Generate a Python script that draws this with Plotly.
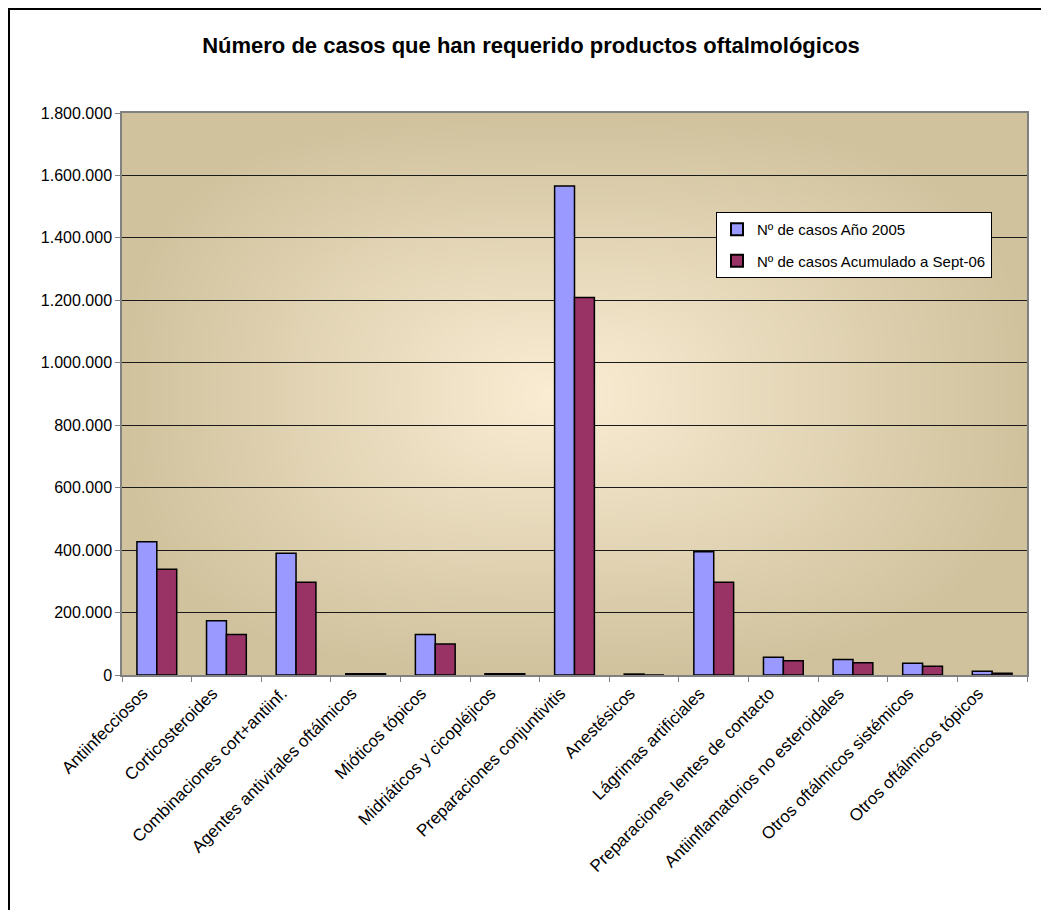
import base64
import struct
import zlib

import plotly.graph_objects as go

categories = [
    "Antiinfecciosos",
    "Corticosteroides",
    "Combinaciones cort+antiinf.",
    "Agentes antivirales oftálmicos",
    "Mióticos tópicos",
    "Midriáticos y cicopléjicos",
    "Preparaciones conjuntivitis",
    "Anestésicos",
    "Lágrimas artificiales",
    "Preparaciones lentes de contacto",
    "Antiinflamatorios no esteroidales",
    "Otros oftálmicos sistémicos",
    "Otros oftálmicos tópicos",
]
casos_2005 = [427000, 174000, 390000, 4000, 130000, 4000, 1566000, 3000, 395000, 57000, 50000, 38000, 12000]
casos_sept06 = [339000, 130000, 297000, 4000, 99000, 4000, 1209000, 0, 297000, 46000, 39000, 28000, 6000]
series_names = ["Nº de casos Año 2005", "Nº de casos Acumulado a Sept-06"]
y_ticks = [0, 200000, 400000, 600000, 800000, 1000000, 1200000, 1400000, 1600000, 1800000]
title_text = "Número de casos que han requerido productos oftalmológicos"


def gradient_png(w, h, center, edge, cx=0.48, cy=0.5, p=3.0):
    rows = []
    for j in range(h):
        v = j / (h - 1)
        row = bytearray([0])
        for i in range(w):
            u = i / (w - 1)
            dx = abs(u - cx) / (cx if u < cx else 1 - cx)
            dy = abs(v - cy) / (cy if v < cy else 1 - cy)
            t = (dx ** p + dy ** p) ** (1 / p)
            t = min(1.0, t)
            for k in range(3):
                row.append(int(round(center[k] + (edge[k] - center[k]) * t)))
        rows.append(bytes(row))
    raw = b"".join(rows)

    def chunk(tag, data):
        c = struct.pack(">I", len(data)) + tag + data
        return c + struct.pack(">I", zlib.crc32(tag + data) & 0xFFFFFFFF)

    png = b"\x89PNG\r\n\x1a\n"
    png += chunk(b"IHDR", struct.pack(">IIBBBBB", w, h, 8, 2, 0, 0, 0))
    png += chunk(b"IDAT", zlib.compress(raw, 9))
    png += chunk(b"IEND", b"")
    return "data:image/png;base64," + base64.b64encode(png).decode()


bg_src = gradient_png(240, 150, (250, 237, 212), (208, 194, 157))

# page body has an 8px margin: figure coords = screen coords - 8
OFF = 8
W, H = 1049 - 2 * OFF, 918 - 2 * OFF
L, R, T, B = 122 - OFF, 1027 - OFF, 113 - OFF, 675 - OFF
pw, ph = R - L, B - T


def px_x(px):
    return (px - OFF - L) / pw


def px_y(py):
    return (B - (py - OFF)) / ph


fig = go.Figure()
fig.add_trace(go.Bar(
    x=categories, y=casos_2005, name=series_names[0],
    marker=dict(color="#9999FF", line=dict(color="#000000", width=1.5)),
    legendgroup="a",
))
fig.add_trace(go.Bar(
    x=categories, y=casos_sept06, name=series_names[1],
    marker=dict(color="#993366", line=dict(color="#000000", width=1.5)),
    legendgroup="b",
))

font_family = "Liberation Sans, Arial, sans-serif"

fig.update_layout(
    width=W, height=H,
    margin=dict(l=L, r=W - R, t=T, b=H - B, pad=0),
    paper_bgcolor="white",
    plot_bgcolor="rgba(0,0,0,0)",
    separators=",.",
    barmode="group",
    bargap=1.5 / 3.5,
    bargroupgap=0,
    font=dict(family=font_family, size=15, color="black"),
    title=dict(
        text="<b>" + title_text + "</b>",
        x=(531 - OFF) / W, xref="container", xanchor="center",
        y=1 - (45 - OFF) / H, yref="container", yanchor="middle",
        font=dict(family=font_family, size=22, color="black"),
    ),
    showlegend=True,
    legend=dict(
        x=px_x(716), y=px_y(212), xanchor="left", yanchor="top",
        bgcolor="white", bordercolor="black", borderwidth=1,
        font=dict(family=font_family, size=15, color="black"),
        tracegroupgap=9,
        itemsizing="constant",
    ),
    images=[dict(
        source=bg_src, xref="paper", yref="paper", x=0, y=1,
        sizex=1, sizey=1, sizing="stretch", layer="below",
    )],
    shapes=[dict(
        type="rect", xref="paper", yref="paper",
        x0=px_x(9), x1=px_x(1100), y0=px_y(1000), y1=px_y(9),
        line=dict(color="black", width=2), fillcolor="rgba(0,0,0,0)",
        layer="above",
    )],
)

fig.update_yaxes(
    range=[0, 1800000],
    tickvals=y_ticks,
    tickformat=",d",
    showgrid=True, gridcolor="#1a1a1a", gridwidth=1,
    showline=True, linecolor="#808080", linewidth=1.5, mirror=True,
    ticks="outside", ticklen=5, tickcolor="#808080",
    tickfont=dict(family=font_family, size=16),
    zeroline=False,
)
fig.update_xaxes(
    tickangle=-45,
    tickson="boundaries",
    ticks="outside", ticklen=5, tickcolor="#808080",
    showline=True, linecolor="#808080", linewidth=1.5, mirror=True,
    showgrid=False,
    ticklabelshift=-14,
    tickfont=dict(family=font_family, size=17),
)

fig.write_html("out.html")
